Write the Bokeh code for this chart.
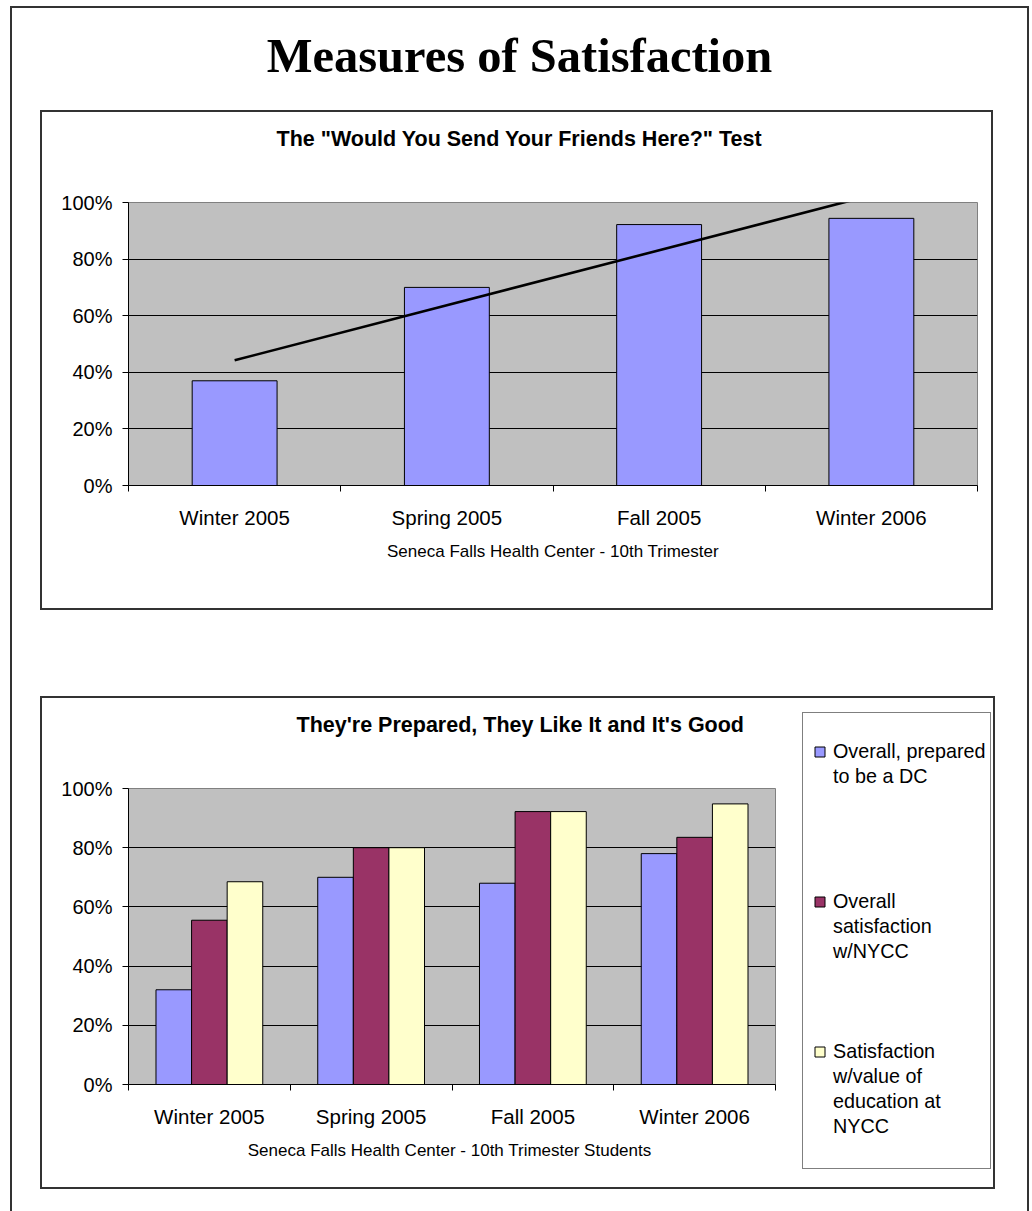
import numpy as np
from bokeh.plotting import figure
from bokeh.layouts import column, row
from bokeh.models import Div, FixedTicker, NumeralTickFormatter, Legend, LegendItem, Range1d, Title
from bokeh.embed import file_html
from bokeh.resources import INLINE

# ---------------- data ----------------
page_title = "Measures of Satisfaction"
categories = ["Winter 2005", "Spring 2005", "Fall 2005", "Winter 2006"]
y_ticks = [0.0, 0.2, 0.4, 0.6, 0.8, 1.0]

chart1_title = 'The "Would You Send Your Friends Here?" Test'
chart1_xlabel = "Seneca Falls Health Center - 10th Trimester"
send_friends = [0.37, 0.70, 0.922, 0.944]

chart2_title = "They're Prepared, They Like It and It's Good"
chart2_xlabel = "Seneca Falls Health Center -  10th Trimester Students"
prepared = [0.32, 0.70, 0.68, 0.78]
overall_satisfaction = [0.555, 0.80, 0.922, 0.835]
value_of_education = [0.685, 0.80, 0.922, 0.948]
series_labels = [
    ["Overall, prepared", "to be a DC"],
    ["Overall", "satisfaction", "w/NYCC"],
    ["Satisfaction", "w/value of", "education at", "NYCC"],
]
series_colors = ["#9999FF", "#993366", "#FFFFCC"]

FONT = "Liberation Sans"
xs = list(range(1, len(categories) + 1))


def no_align(p):
    if "frame_align" in p.properties():
        p.frame_align = False


def style(p, xlabel, title_offset):
    no_align(p)
    p.background_fill_color = "#C0C0C0"
    p.border_fill_color = "white"
    p.outline_line_color = "#808080"
    p.outline_line_width = 1
    p.xgrid.visible = False
    p.ygrid.ticker = FixedTicker(ticks=y_ticks[1:-1])
    p.ygrid.grid_line_color = "#000000"
    p.ygrid.grid_line_width = 1

    ax = p.xaxis[0]
    ax.ticker = FixedTicker(ticks=xs, minor_ticks=[x - 0.5 for x in xs] + [xs[-1] + 0.5])
    ax.major_label_overrides = {x: c for x, c in zip(xs, categories)}
    ax.major_tick_out = 0
    ax.major_tick_in = 0
    ax.minor_tick_out = 6
    ax.minor_tick_in = 0
    ax.minor_tick_line_color = "black"
    ax.axis_line_color = "black"
    ax.major_label_text_font = FONT
    ax.major_label_text_font_size = "20.5px"
    ax.major_label_text_color = "black"
    ax.major_label_standoff = 14
    ax.axis_label = xlabel
    ax.axis_label_text_font = FONT
    ax.axis_label_text_font_size = "17px"
    ax.axis_label_text_font_style = "normal"
    ax.axis_label_text_color = "black"
    ax.axis_label_standoff = 10

    ay = p.yaxis[0]
    ay.ticker = FixedTicker(ticks=y_ticks)
    ay.formatter = NumeralTickFormatter(format="0%")
    ay.major_tick_out = 6
    ay.major_tick_in = 0
    ay.minor_tick_line_color = None
    ay.axis_line_color = "black"
    ay.major_tick_line_color = "black"
    ay.major_label_text_font = FONT
    ay.major_label_text_font_size = "20px"
    ay.major_label_text_color = "black"
    ay.major_label_standoff = 10

    # spacer between the chart title and the plot area
    p.add_layout(Title(text=" ", text_font_size="10px", standoff=38), "above")
    p.title.text_font = FONT
    p.title.text_font_size = "21.5px"
    p.title.text_font_style = "bold"
    p.title.text_color = "black"
    p.title.align = "left"
    p.title.offset = title_offset
    p.title.vertical_align = "middle"
    p.title.standoff = 0


# ---------------- chart 1 ----------------
p1 = figure(width=949, height=496, x_range=Range1d(0.5, 4.5), y_range=Range1d(0, 1),
            output_backend="svg", toolbar_location=None, title=chart1_title,
            min_border_left=86, min_border_right=14, min_border_top=90, min_border_bottom=123)
style(p1, chart1_xlabel, 148)

p1.vbar(x=xs, top=send_friends, width=0.4, fill_color="#9999FF", line_color="black", line_width=1)
coef = np.polyfit(xs, send_friends, 1)
trend_x = [xs[0], xs[-1]]
p1.line(trend_x, list(np.polyval(coef, trend_x)), line_color="black", line_width=2.6)

# ---------------- chart 2 ----------------
p2 = figure(width=758, height=489, x_range=Range1d(0.5, 4.5), y_range=Range1d(0, 1),
            output_backend="svg", toolbar_location=None, title=chart2_title,
            min_border_left=86, min_border_right=25, min_border_top=90, min_border_bottom=103)
style(p2, chart2_xlabel, 168)

bar_w = 0.22
offsets = [-bar_w, 0.0, bar_w]
for vals, col, off in zip([prepared, overall_satisfaction, value_of_education], series_colors, offsets):
    p2.vbar(x=[x + off for x in xs], top=vals, width=bar_w, fill_color=col,
            line_color="black", line_width=1)

# ---------------- legend panel of chart 2 ----------------
leg = figure(width=193, height=489, x_range=Range1d(0, 1), y_range=Range1d(0, 1),
             x_axis_type=None, y_axis_type=None, output_backend="svg", toolbar_location=None,
             min_border=0, min_border_left=0, min_border_right=0, min_border_top=0, min_border_bottom=0)
no_align(leg)
leg.outline_line_color = None
leg.background_fill_color = "white"
leg.border_fill_color = "white"
leg.xgrid.visible = False
leg.ygrid.visible = False

# legend swatches: one point each, kept outside the visible range so only the key shows
legend_glyphs = [leg.scatter(x=[-5], y=[-5], marker="square", size=10, fill_color=c,
                             line_color="black", line_width=1) for c in series_colors]
blank = leg.scatter(x=[-5], y=[-5], marker="square", size=10, fill_alpha=0, line_alpha=0)

gap_rows = [4, 3, 1]
items = []
for lines, r, gap in zip(series_labels, legend_glyphs, gap_rows):
    for k, line in enumerate(lines):
        items.append(LegendItem(label=line, renderers=[r if k == 0 else blank]))
    for _ in range(gap):
        items.append(LegendItem(label=" ", renderers=[blank]))

legend = Legend(items=items, location=(2, 18),
                title=" ", title_text_font_size="16px", title_standoff=4,
                padding=4, spacing=0, margin=0,
                glyph_width=25, glyph_height=25, label_height=25, label_standoff=1,
                label_text_font=FONT, label_text_font_size="19.75px", label_text_color="black",
                border_line_color="black", border_line_width=1,
                background_fill_color="white", background_fill_alpha=1.0)
leg.add_layout(legend)

# ---------------- page ----------------
header = Div(text=('<div style="width:1015px;font-family:\'Liberation Serif\';font-size:48.5px;'
                   'font-weight:bold;text-align:center;line-height:54px;padding-top:21px;color:#000;">'
                   + page_title + '</div>'),
             width=1015, height=104, margin=(0, 0, 0, 0))

p1.margin = (0, 0, 0, 30)
p1.styles = {"outline": "2px solid #333", "box-shadow": "2px 2px 0 #a0a0a0"}
box2 = row(p2, leg, width=951, height=489, spacing=0, margin=(90, 0, 0, 30),
           styles={"outline": "2px solid #333", "box-shadow": "2px 2px 0 #a0a0a0"})

page = column(header, p1, box2, width=1015, height=1203, spacing=0, margin=(8, 0, 0, 12),
              styles={"outline": "2px solid #333"})

open("out.html", "w").write(file_html(page, INLINE))
